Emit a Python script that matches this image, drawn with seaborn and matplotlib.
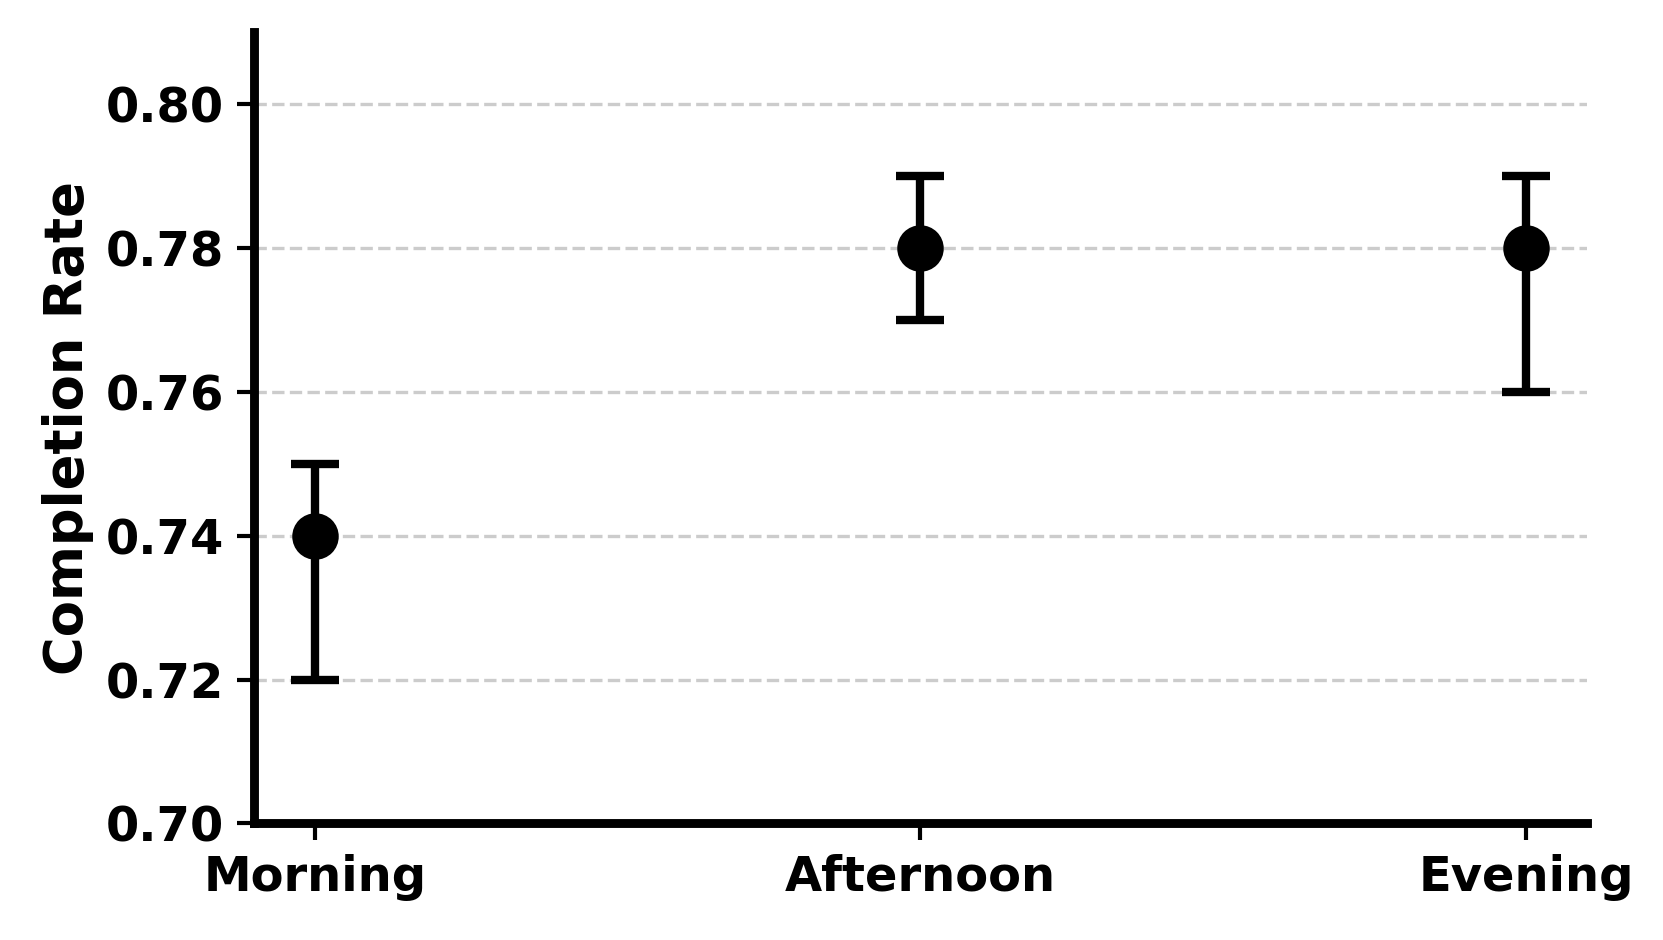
import matplotlib
matplotlib.use("Agg")
import matplotlib.pyplot as plt
import seaborn as sns
import pandas as pd

# Data
periods = ["Morning", "Afternoon", "Evening"]
rates = [0.74, 0.78, 0.78]
lower = [0.72, 0.77, 0.76]
upper = [0.75, 0.79, 0.79]

df = pd.DataFrame({"Period": periods, "Rate": rates})

sns.set_style("white")
plt.rcParams["font.family"] = ["DejaVu Sans"]
plt.rcParams["font.weight"] = "bold"

fig, ax = plt.subplots(figsize=(8.315, 4.7), dpi=200)

err_low = [r - lo for r, lo in zip(rates, lower)]
err_high = [hi - r for r, hi in zip(rates, upper)]
ax.errorbar(range(len(periods)), rates, yerr=[err_low, err_high], fmt="none",
            ecolor="black", elinewidth=3, capsize=8.5, capthick=3, zorder=3)
sns.scatterplot(data=df, x="Period", y="Rate", color="black", s=240,
                edgecolor="black", zorder=4, ax=ax, legend=False)

ax.set_xlim(-0.1, 2.1)
ax.set_ylim(0.70, 0.81)
ax.set_yticks([0.70, 0.72, 0.74, 0.76, 0.78, 0.80])
ax.yaxis.grid(True, linestyle="--", color="#cccccc", linewidth=1.2)
ax.set_axisbelow(True)

ax.set_xlabel("")
ax.set_ylabel("Completion Rate", fontsize=19, fontweight="bold", color="black")
ax.tick_params(axis="both", labelsize=17.3, width=1.5, length=6, pad=5,
               colors="black", bottom=True, left=True)
for lab in ax.get_xticklabels() + ax.get_yticklabels():
    lab.set_fontweight("bold")

sns.despine(ax=ax)
for side in ["left", "bottom"]:
    ax.spines[side].set_linewidth(3.2)
    ax.spines[side].set_color("black")

fig.subplots_adjust(left=0.153, right=0.954, top=0.966, bottom=0.124)
fig.savefig("out.png", dpi=200)
